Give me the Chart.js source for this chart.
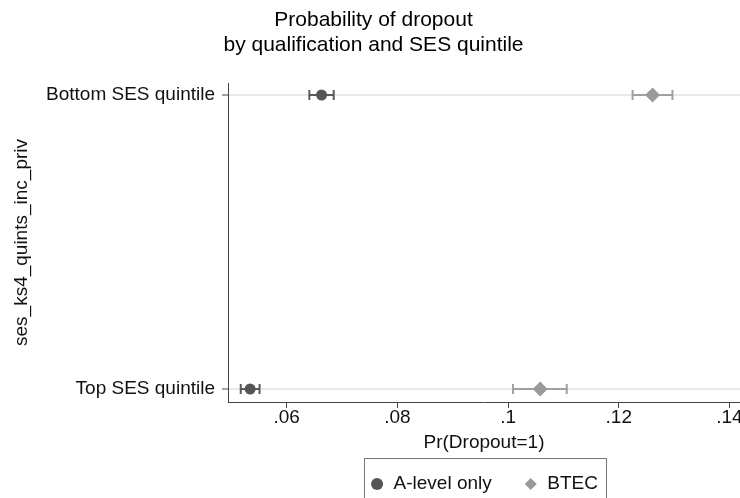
<!DOCTYPE html>
<html><head><meta charset="utf-8">
<script src="https://cdn.jsdelivr.net/npm/chart.js@4"></script>
<style>html,body{margin:0;padding:0;overflow:hidden;background:#fff}</style>
</head><body>
<canvas id="c" width="760" height="540"></canvas>
<script>
const categories = ['Top SES quintile', 'Bottom SES quintile'];
const seriesNames = ['A-level only', 'BTEC'];
const alevelEst = [0.0534, 0.0663];
const alevelLow = [0.0517, 0.0641];
const alevelHigh = [0.0551, 0.0685];
const btecEst = [0.1058, 0.1261];
const btecLow = [0.1009, 0.1225];
const btecHigh = [0.1106, 0.1297];
const xTickValues = [0.06, 0.08, 0.10, 0.12, 0.14];
const xTickLabels = ['.06', '.08', '.1', '.12', '.14'];
const chartTitle = ['Probability of dropout', 'by qualification and SES quintile'];
const xTitle = 'Pr(Dropout=1)';
const yTitle = 'ses_ks4_quints_inc_priv';

Chart.defaults.font.family = "'Liberation Sans', Arial, sans-serif";
Chart.defaults.color = '#111';

function pts(est, lo, hi) { return est.map((v, i) => ({x: v, y: i, lo: lo[i], hi: hi[i]})); }

const errorBars = {
  id: 'errorBars',
  beforeDatasetsDraw(chart) {
    const {ctx, scales: {x, y}} = chart;
    chart.data.datasets.forEach(ds => {
      ctx.save();
      ctx.strokeStyle = ds.errorColor;
      ctx.lineWidth = 2;
      ds.data.forEach(p => {
        const x1 = x.getPixelForValue(p.lo), x2 = x.getPixelForValue(p.hi), yy = y.getPixelForValue(p.y);
        ctx.beginPath();
        ctx.moveTo(x1, yy); ctx.lineTo(x2, yy);
        ctx.moveTo(x1, yy - 5); ctx.lineTo(x1, yy + 5);
        ctx.moveTo(x2, yy - 5); ctx.lineTo(x2, yy + 5);
        ctx.stroke();
      });
      ctx.restore();
    });
  }
};

const legendFrame = {
  id: 'legendFrame',
  afterDraw(chart) {
    const hb = chart.legend && chart.legend.legendHitBoxes;
    if (!hb || !hb.length) return;
    const ctx = chart.ctx;
    const first = hb[0], last = hb[hb.length - 1];
    const cy = first.top + first.height / 2;
    const left = first.left - 6, right = last.left + last.width + 8;
    const top = cy - 26;
    ctx.save();
    ctx.strokeStyle = '#777';
    ctx.lineWidth = 1;
    ctx.strokeRect(Math.round(left) + 0.5, Math.round(top) + 0.5, Math.round(right - left), 70);
    ctx.restore();
  }
};

new Chart(document.getElementById('c'), {
  type: 'scatter',
  data: {
    datasets: [
      {label: seriesNames[0], data: pts(alevelEst, alevelLow, alevelHigh), pointStyle: 'circle', pointRadius: 5.5,
       backgroundColor: '#555555', borderColor: '#555555', borderWidth: 0, errorColor: '#5a5a5a'},
      {label: seriesNames[1], data: pts(btecEst, btecLow, btecHigh), pointStyle: 'rectRot', pointRadius: 7.5,
       backgroundColor: '#9a9a9a', borderColor: '#9a9a9a', borderWidth: 0, errorColor: '#a0a0a0'}
    ]
  },
  options: {
    responsive: false,
    animation: false,
    layout: {padding: {left: 7, right: 20, top: 0, bottom: 36.5}},
    plugins: {
      title: {display: true, text: chartTitle, font: {size: 21, weight: 'normal'}, color: '#000',
              padding: {top: 7.4, bottom: 25.2}},
      legend: {position: 'bottom', fullSize: false, align: 'center',
               labels: {usePointStyle: true, boxWidth: 14, boxHeight: 8.5, padding: 32,
                        font: {size: 19}, color: '#111'}},
      tooltip: {enabled: false}
    },
    scales: {
      x: {
        type: 'linear', min: 0.0494, max: 0.1419,
        afterBuildTicks: s => { s.ticks = xTickValues.map(v => ({value: v})); },
        ticks: {callback: (v, i) => xTickLabels[i], font: {size: 19}, padding: -2, maxRotation: 0, autoSkip: false, color: '#111'},
        grid: {drawOnChartArea: false, tickLength: 6, tickColor: '#444', tickWidth: 1},
        border: {color: '#444', width: 1},
        title: {display: true, text: xTitle, font: {size: 19}, color: '#111', padding: {top: 0, bottom: -11.9}},
        afterFit: s => { s.height = 40.5; }
      },
      y: {
        type: 'linear', min: -0.0442, max: 1.0408,
        afterBuildTicks: s => { s.ticks = [{value: 0}, {value: 1}]; },
        ticks: {callback: v => categories[v], font: {size: 19}, padding: 7, color: '#111'},
        grid: {color: '#e8e8e8', lineWidth: 2, tickLength: 6, tickColor: '#444', tickWidth: 1},
        border: {color: '#444', width: 1},
        title: {display: true, text: yTitle, font: {size: 19}, color: '#111', padding: {top: 3.6, bottom: 0}},
        afterFit: s => { s.width = 221; }
      }
    }
  },
  plugins: [errorBars, legendFrame]
});
</script>
</body></html>
